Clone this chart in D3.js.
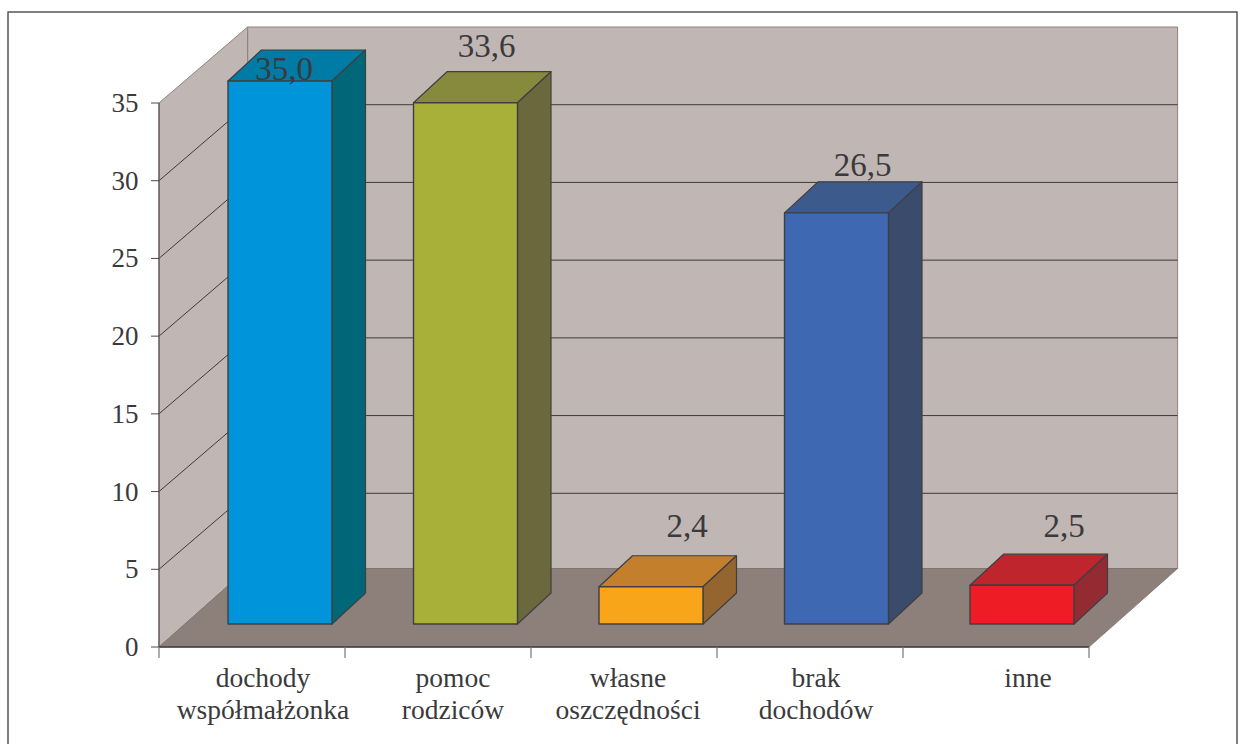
<!DOCTYPE html>
<html><head><meta charset="utf-8">
<script src="https://cdnjs.cloudflare.com/ajax/libs/d3/7.8.5/d3.min.js"></script>
<style>html,body{margin:0;padding:0;background:#fff}svg{display:block}
text{font-family:"Liberation Serif",serif;fill:#3a3a3c}</style></head><body>
<svg id="c" width="1246" height="744"></svg>
<script>
const categories=[["dochody","współmałżonka"],["pomoc","rodziców"],["własne","oszczędności"],["brak","dochodów"],["inne"]];
const values=[35.0,33.6,2.4,26.5,2.5];
const valueLabels=["35,0","33,6","2,4","26,5","2,5"];
const yTicks=[0,5,10,15,20,25,30,35];
const frontColors=["#0095da","#a8b039","#f9a51a","#3e68b1","#ee1c25"];
const topColors=["#007ba5","#878a3c","#c47f2c","#3d5a8c","#bf252d"];
const sideColors=["#006779","#6c683d","#94652f","#3a4b6c","#952b32"];

const svg=d3.select("#c");
const ink="#3f3f42";
const x=d3.scaleBand().domain(d3.range(categories.length)).range([159,1089]);
const xBars=d3.scaleBand().domain(d3.range(categories.length)).range([159,1086.5]);
const y=d3.scaleLinear().domain([0,35]).range([647,103]);
const dx=88.6,dy=-76,floorDy=-78.5;  // wall depth
const bdx=33.5,bdy=-31;              // bar depth
const barOff=69,barW=104,barBase=624;
const bh=d3.scaleLinear().domain([0,35]).range([0,543]);
// label placement as found in the source picture (offsets, not data)
const catNudge=[11,15,4,6,32];
const labelDx=[56,73,88,78,94];
const labelDy=[-1,-46,-50,-37,-48];

const poly=(pts,fill,stroke,sw)=>svg.append("polygon").attr("points",pts.map(p=>p.join(",")).join(" "))
  .attr("fill",fill).attr("stroke",stroke||"none").attr("stroke-width",sw||0).attr("stroke-linejoin","round");
const line=(a,b,c,w)=>svg.append("line").attr("x1",a[0]).attr("y1",a[1]).attr("x2",b[0]).attr("y2",b[1]).attr("stroke",c).attr("stroke-width",w);

svg.append("rect").attr("x",8).attr("y",12).attr("width",1229).attr("height",760).attr("fill","#fff").attr("stroke","#3c3c3e").attr("stroke-width",1.3);

const x0=x.range()[0],x1=x.range()[1];
const fy=y(0)+floorDy;
// walls
poly([[x0+dx,y(35)+dy],[x1+dx,y(35)+dy],[x1+dx,fy],[x0+dx,fy]],"#c0b6b3","#8f827d",1);
poly([[x0,y(35)],[x0+dx,y(35)+dy],[x0+dx,fy],[x0,y(0)]],"#c0b6b3","#8f827d",1);
// gridlines
yTicks.filter(t=>t>0&&t<35).forEach(t=>{
  line([x0,y(t)],[x0+dx,y(t)+dy],"#3f3a39",1);
  line([x0+dx,y(t)+dy],[x1+dx,y(t)+dy],"#3f3a39",1);
});
// floor
poly([[x0,y(0)],[x1,y(0)],[x1+dx,fy],[x0+dx,fy]],"#8d7f7a","#7d716d",0.8);
// axes
line([x0,y(35)],[x0,y(0)],"#5a5558",1.2);
line([x0,y(0)],[x1,y(0)],"#3f3f42",1.4);
yTicks.forEach(t=>{
  line([151,y(t)],[x0,y(t)],"#4a4a4c",1);
  svg.append("text").attr("x",138.5).attr("y",y(t)+9).attr("text-anchor","end").attr("font-size",27).text(t);
});
d3.range(categories.length+1).forEach(i=>{
  const tx=i<categories.length?x(i):x1;
  line([tx,y(0)],[tx,658],"#77777a",1.2);
});
categories.forEach((lines,i)=>{
  const cx=x(i)+x.bandwidth()/2+catNudge[i];
  lines.forEach((s,j)=>svg.append("text").attr("x",cx).attr("y",687+j*31.5).attr("text-anchor","middle")
    .attr("font-size",27.5).text(s));
});
// bars
values.forEach((v,i)=>{
  const l=xBars(i)+barOff,r=l+barW,b=barBase,t=b-bh(v);
  poly([[l,t],[l+bdx,t+bdy],[r+bdx,t+bdy],[r,t]],topColors[i],ink,1.2);
  poly([[r,t],[r+bdx,t+bdy],[r+bdx,b+bdy],[r,b]],sideColors[i],ink,1.2);
  poly([[l,t],[r,t],[r,b],[l,b]],frontColors[i],ink,1.4);
  svg.append("text").attr("x",l+labelDx[i]).attr("y",t+labelDy[i]).attr("font-size",33).attr("text-anchor","middle")
    .text(valueLabels[i]);
});
</script></body></html>
